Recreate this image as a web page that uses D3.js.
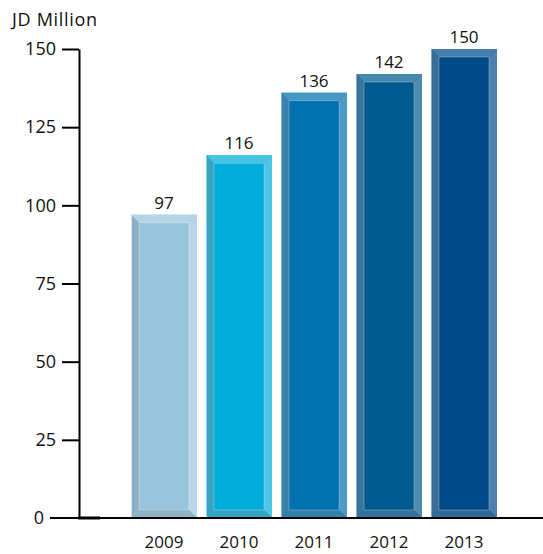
<!DOCTYPE html>
<html>
<head>
<meta charset="utf-8">
<script src="https://cdn.jsdelivr.net/npm/d3@7"></script>
<style>
  body { margin: 0; background: #fff; }
  svg text { font-family: "Open Sans", "Noto Sans", sans-serif; fill: #111; }
</style>
</head>
<body>
<div id="chart"></div>
<script>
// data
const years = ["2009", "2010", "2011", "2012", "2013"];
const values = [97, 116, 136, 142, 150];
const barColors = ["#98c5dc", "#00acd8", "#0070ae", "#005a8e", "#004a88"];
const yTicks = [0, 25, 50, 75, 100, 125, 150];

const width = 543, height = 554;
const svg = d3.select("#chart").append("svg")
    .attr("width", width)
    .attr("height", height);

const x = d3.scaleBand().domain(years).range([122, 506]).padding(0.12);
const y = d3.scaleLinear().domain([0, 150]).range([518, 49]);

// unit title
svg.append("text")
    .attr("x", 12).attr("y", 26)
    .attr("font-size", 18)
    .attr("textLength", 85)
    .text("JD Million");

// bars with bevelled frame
const bev = 8;
const bars = svg.append("g").selectAll("g")
    .data(years.map((yr, i) => ({year: yr, value: values[i], color: barColors[i]})))
    .join("g");

bars.each(function(d) {
  const g = d3.select(this);
  const x0 = x(d.year), x1 = x0 + x.bandwidth();
  const y0 = y(d.value), y1 = y(0);
  const c = d.color;
  const mix = (a, t) => d3.interpolateRgb(c, a)(t);

  g.append("rect")
      .attr("x", x0).attr("y", y0)
      .attr("width", x1 - x0).attr("height", y1 - y0)
      .attr("fill", c);

  const faces = [
    {pts: [[x0, y0], [x1, y0], [x1 - bev, y0 + bev], [x0 + bev, y0 + bev]], fill: mix("#ffffff", 0.28)},
    {pts: [[x0, y0], [x0 + bev, y0 + bev], [x0 + bev, y1 - bev], [x0, y1]], fill: mix("#7f97ab", 0.45)},
    {pts: [[x1, y0], [x1, y1], [x1 - bev, y1 - bev], [x1 - bev, y0 + bev]], fill: mix("#ffffff", 0.3)},
    {pts: [[x0, y1], [x0 + bev, y1 - bev], [x1 - bev, y1 - bev], [x1, y1]], fill: mix("#7f97ab", 0.4)}
  ];
  g.selectAll("polygon").data(faces).join("polygon")
      .attr("points", f => f.pts.map(p => p.join(",")).join(" "))
      .attr("fill", f => f.fill);

  // thin light inner edge
  g.append("rect")
      .attr("x", x0 + bev).attr("y", y0 + bev)
      .attr("width", x1 - x0 - 2 * bev).attr("height", y1 - y0 - 2 * bev)
      .attr("fill", "none")
      .attr("stroke", "#ffffff").attr("stroke-opacity", 0.35)
      .attr("stroke-width", 0.8);
  // outer edge shading
  g.append("line")
      .attr("x1", x0 + 0.5).attr("x2", x0 + 0.5)
      .attr("y1", y0).attr("y2", y1)
      .attr("stroke", mix("#ffffff", 0.5)).attr("stroke-width", 1);

  g.append("text")
      .attr("x", x0 + x.bandwidth() / 2)
      .attr("y", y0 - 6)
      .attr("text-anchor", "middle")
      .attr("font-size", 17)
      .text(d.value);
});

// y axis
const yAxis = svg.append("g")
    .attr("transform", "translate(79,0)")
    .call(d3.axisLeft(y).tickValues(yTicks).tickSize(17).tickPadding(6).tickSizeOuter(0));
yAxis.select(".domain").attr("stroke", "#000").attr("stroke-width", 2);
yAxis.selectAll(".tick line").attr("stroke", "#000").attr("stroke-width", 2);
yAxis.selectAll(".tick text").attr("font-size", 18).attr("font-family", "Open Sans, Noto Sans, sans-serif").attr("fill", "#111");
// zero tick: label sits further left, axis line runs through
const zeroTick = yAxis.select(".tick:first-of-type");
zeroTick.select("line").remove();
zeroTick.select("text").attr("x", -35);

// x axis line
svg.append("line")
    .attr("x1", 50).attr("x2", width)
    .attr("y1", y(0)).attr("y2", y(0))
    .attr("stroke", "#000").attr("stroke-width", 2);
svg.append("line")
    .attr("x1", 78).attr("x2", 100)
    .attr("y1", y(0)).attr("y2", y(0))
    .attr("stroke", "#000").attr("stroke-width", 3);

// x labels
svg.append("g").selectAll("text")
    .data(years)
    .join("text")
    .attr("x", d => x(d) + x.bandwidth() / 2)
    .attr("y", 548)
    .attr("text-anchor", "middle")
    .attr("font-size", 17)
    .text(d => d);
</script>
</body>
</html>
